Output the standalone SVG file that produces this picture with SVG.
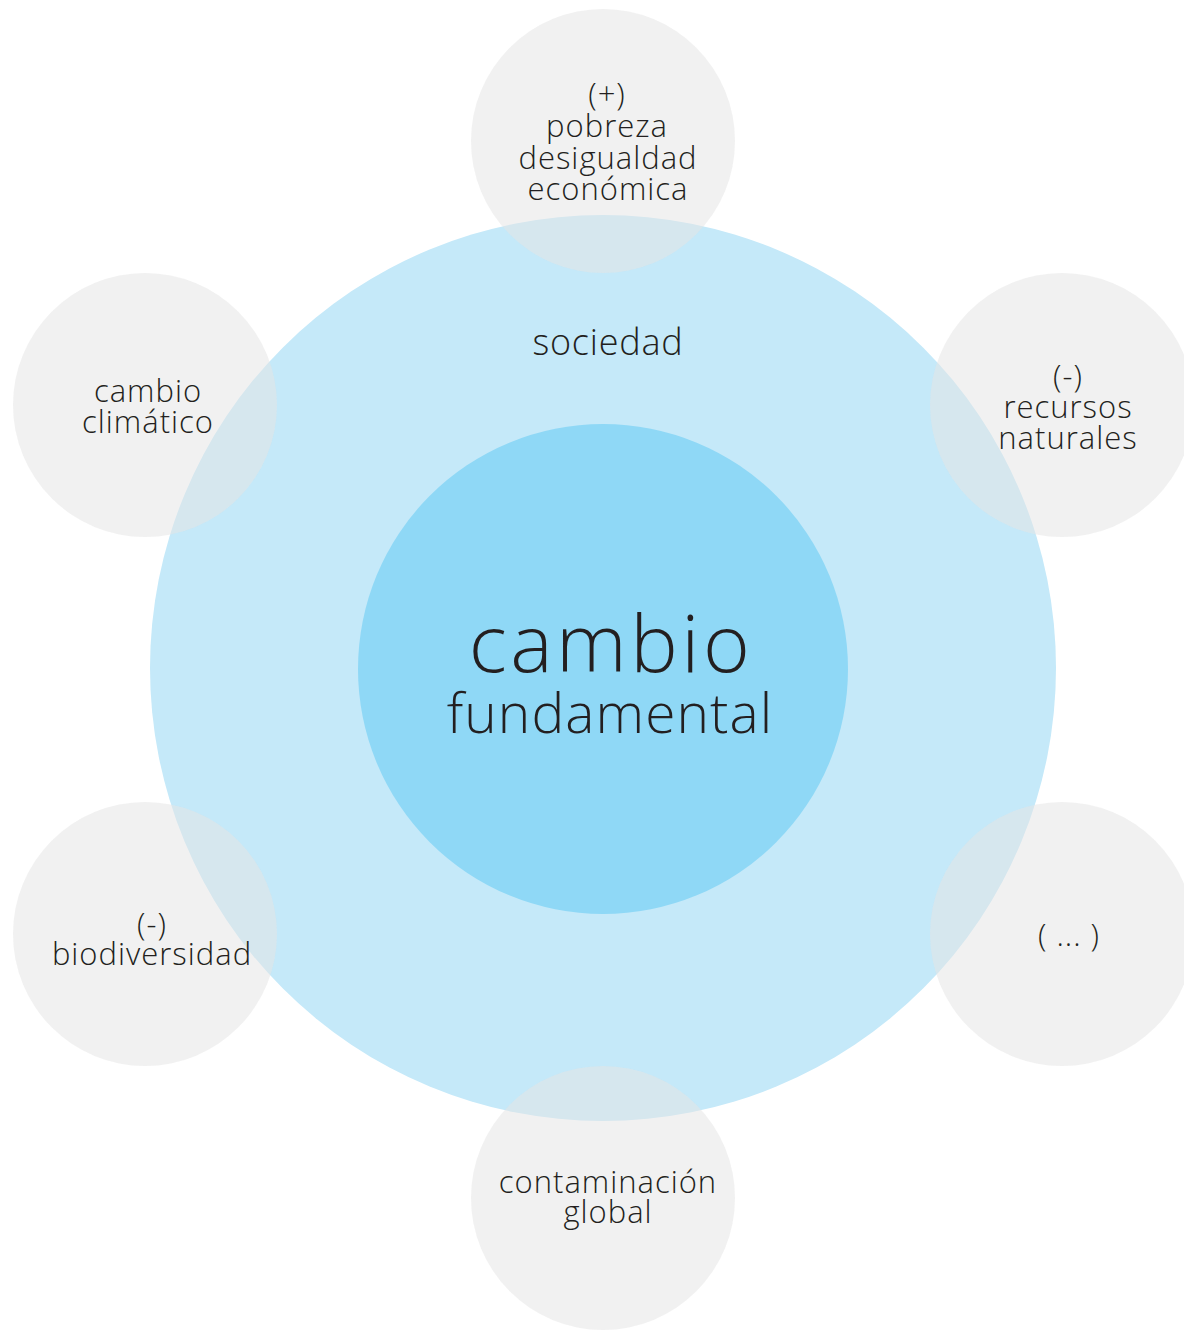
<svg xmlns="http://www.w3.org/2000/svg" width="1184" height="1331" viewBox="0 0 1184 1331">
<style>
.sat{fill:#e4e4e4;fill-opacity:0.53}
text{font-family:"Open Sans","Noto Sans",sans-serif;font-weight:300;fill:#231f20;text-anchor:middle}
.s{font-size:31px;letter-spacing:1px}
</style>
<rect width="1184" height="1331" fill="#ffffff"/>
<g id="sociedad">
<circle cx="603" cy="668" r="453" fill="#c5e9f9"/>
<text x="608" y="355" style="font-size:36px;letter-spacing:0.8px">sociedad</text>
</g>
<g id="cambio-fundamental">
<circle cx="603" cy="669" r="245" fill="#8fd8f6"/>
<text x="611" y="672" style="font-size:80px;letter-spacing:3.5px">cambio</text>
<text x="610" y="733" style="font-size:55px;letter-spacing:1.1px">fundamental</text>
</g>
<g id="pobreza">
<circle class="sat" cx="603" cy="141" r="132"/>
<text class="s" x="607" y="105">(+)</text>
<text class="s" x="607" y="137">pobreza</text>
<text class="s" x="608" y="169">desigualdad</text>
<text class="s" x="608" y="200">económica</text>
</g>
<g id="cambio-climatico">
<circle class="sat" cx="145" cy="405" r="132"/>
<text class="s" x="148" y="402">cambio</text>
<text class="s" x="148" y="433">climático</text>
</g>
<g id="recursos-naturales">
<circle class="sat" cx="1062" cy="405" r="132"/>
<text class="s" x="1068" y="387">(-)</text>
<text class="s" x="1068" y="418">recursos</text>
<text class="s" x="1068" y="449">naturales</text>
</g>
<g id="biodiversidad">
<circle class="sat" cx="145" cy="934" r="132"/>
<text class="s" x="152" y="935">(-)</text>
<text class="s" x="152" y="965">biodiversidad</text>
</g>
<g id="otros">
<circle class="sat" cx="1062" cy="934" r="132"/>
<text class="s" x="1069" y="946">( ... )</text>
</g>
<g id="contaminacion-global">
<circle class="sat" cx="603" cy="1198" r="132"/>
<text class="s" x="608" y="1193">contaminación</text>
<text class="s" x="608" y="1223">global</text>
</g>
<g id="connectors"></g>
</svg>
